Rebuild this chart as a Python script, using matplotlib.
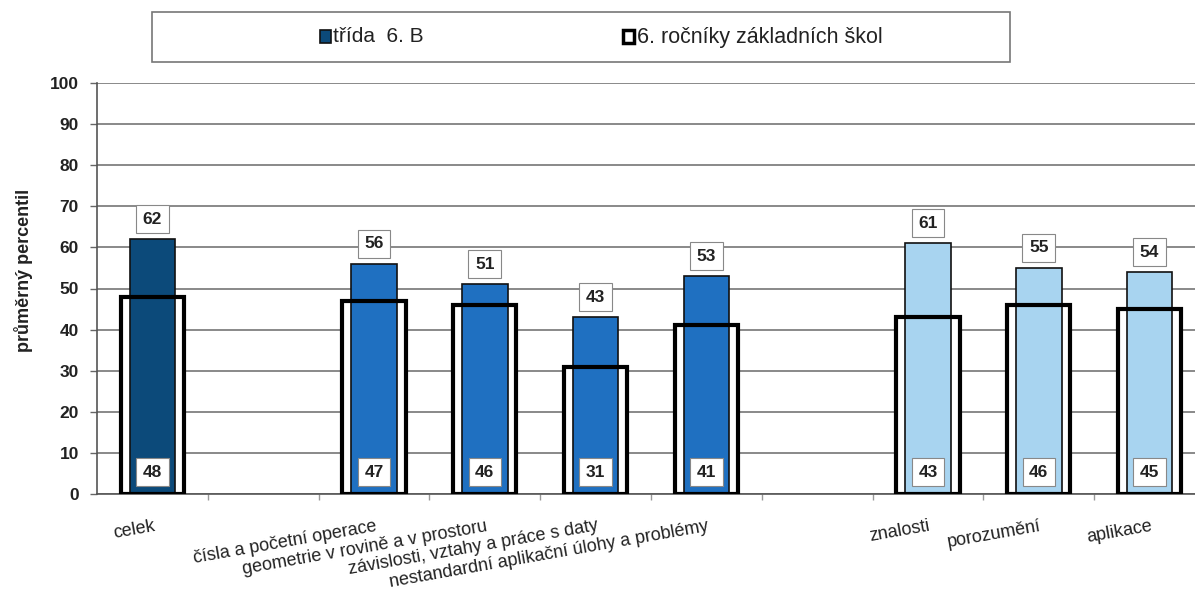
import numpy as np
import matplotlib
matplotlib.use("Agg")
import matplotlib.pyplot as plt
from matplotlib.patches import Rectangle

plt.rcParams['font.family'] = ['Liberation Sans', 'DejaVu Sans']

categories = ["celek", "",
              "čísla a početní operace",
              "geometrie v rovině a v prostoru",
              "závislosti, vztahy a práce s daty",
              "nestandardní aplikační úlohy a problémy", "",
              "znalosti", "porozumění", "aplikace"]
class_values = [62, None, 56, 51, 43, 53, None, 61, 55, 54]
national_values = [48, None, 47, 46, 31, 41, None, 43, 46, 45]
groups = [0, None, 1, 1, 1, 1, None, 2, 2, 2]
series_names = ["třída  6. B", "6. ročníky základních škol"]
y_ticks = [0, 10, 20, 30, 40, 50, 60, 70, 80, 90, 100]
y_label = "průměrný percentil"

group_colors = ["#0c4a7a", "#1f70c1", "#a8d4f0"]

W, H = 1195, 594
fig = plt.figure(figsize=(W / 100, H / 100), dpi=100)
ax = fig.add_axes([97 / W, 1 - 494 / H, (W - 97) / W, (494 - 83) / H])

x = np.arange(len(categories))
outer_w = 0.57
inner_w = 0.41

for i, (cv, nv, g) in enumerate(zip(class_values, national_values, groups)):
    if cv is None:
        continue
    ax.bar(x[i], nv, width=outer_w, color="white", edgecolor="none", zorder=2)
    ax.bar(x[i], cv, width=inner_w, color=group_colors[g], edgecolor="#111111",
           linewidth=1.2, zorder=3)
    ax.bar(x[i], nv, width=outer_w, fill=False, edgecolor="black",
           linewidth=3.0, zorder=4)
    ax.annotate(f"{cv}", xy=(x[i], cv), xytext=(0, 9), textcoords="offset points",
                ha="center", va="bottom", fontsize=12.5, fontweight="bold",
                color="#222222", zorder=6,
                bbox=dict(boxstyle="square,pad=0.38", fc="white", ec="#888888", lw=0.8))
    ax.text(x[i], 5.3, f"{nv}", ha="center", va="center", fontsize=12.5,
            fontweight="bold", color="#222222", zorder=6,
            bbox=dict(boxstyle="square,pad=0.38", fc="white", ec="#888888", lw=0.8))

ax.set_ylim(0, 100)
ax.set_xlim(-0.5, -0.5 + (W - 97) / 110.8)
ax.set_yticks(y_ticks)
ax.set_yticklabels([str(t) for t in y_ticks], fontweight="bold", fontsize=12.5, color="#222222")
ax.yaxis.grid(True, color="#808080", linewidth=1.3, zorder=0)
ax.set_axisbelow(True)
ax.tick_params(axis="y", length=5, width=1, color="#666666", pad=8)

ax.set_xticks(x[:-1] + 0.5)
ax.set_xticklabels([])
ax.tick_params(axis="x", length=4, width=1, color="#999999")

for s in ["top", "right"]:
    ax.spines[s].set_visible(False)
ax.spines["left"].set_color("#555555")
ax.spines["bottom"].set_color("#555555")
ax.spines["left"].set_linewidth(1.2)
ax.spines["bottom"].set_linewidth(1.2)

ax.set_ylabel(y_label, fontsize=13, fontweight="bold", color="#222222")
ax.yaxis.set_label_coords(-0.058, 0.545)

trans = ax.get_xaxis_transform()
for i, c in enumerate(categories):
    if not c:
        continue
    ax.text(x[i] + 0.02, -32 / 411, c, transform=trans, rotation=10,
            rotation_mode="anchor", ha="right", va="center", fontsize=13,
            color="#222222")

# legend (drawn manually in pixel-based figure coordinates)
def fx(px):
    return px / W

def fy(py):
    return 1 - py / H

fig.patches.append(Rectangle((fx(152), fy(62)), fx(1010) - fx(152), fy(12) - fy(62),
                             transform=fig.transFigure, fill=False,
                             edgecolor="#777777", linewidth=1.2))
fig.patches.append(Rectangle((fx(320), fy(43)), fx(11) - fx(0), fy(30) - fy(43),
                             transform=fig.transFigure, facecolor=group_colors[0],
                             edgecolor="#111111", linewidth=1.2))
fig.patches.append(Rectangle((fx(623), fy(43)), fx(11) - fx(0), fy(30) - fy(43),
                             transform=fig.transFigure, facecolor="white",
                             edgecolor="black", linewidth=2.5))
fig.text(fx(333), fy(37), series_names[0], ha="left", va="center", fontsize=15,
         color="#222222")
fig.text(fx(637), fy(37), series_names[1], ha="left", va="center", fontsize=15.5,
         color="#222222")

fig.savefig("out.png", dpi=100)
